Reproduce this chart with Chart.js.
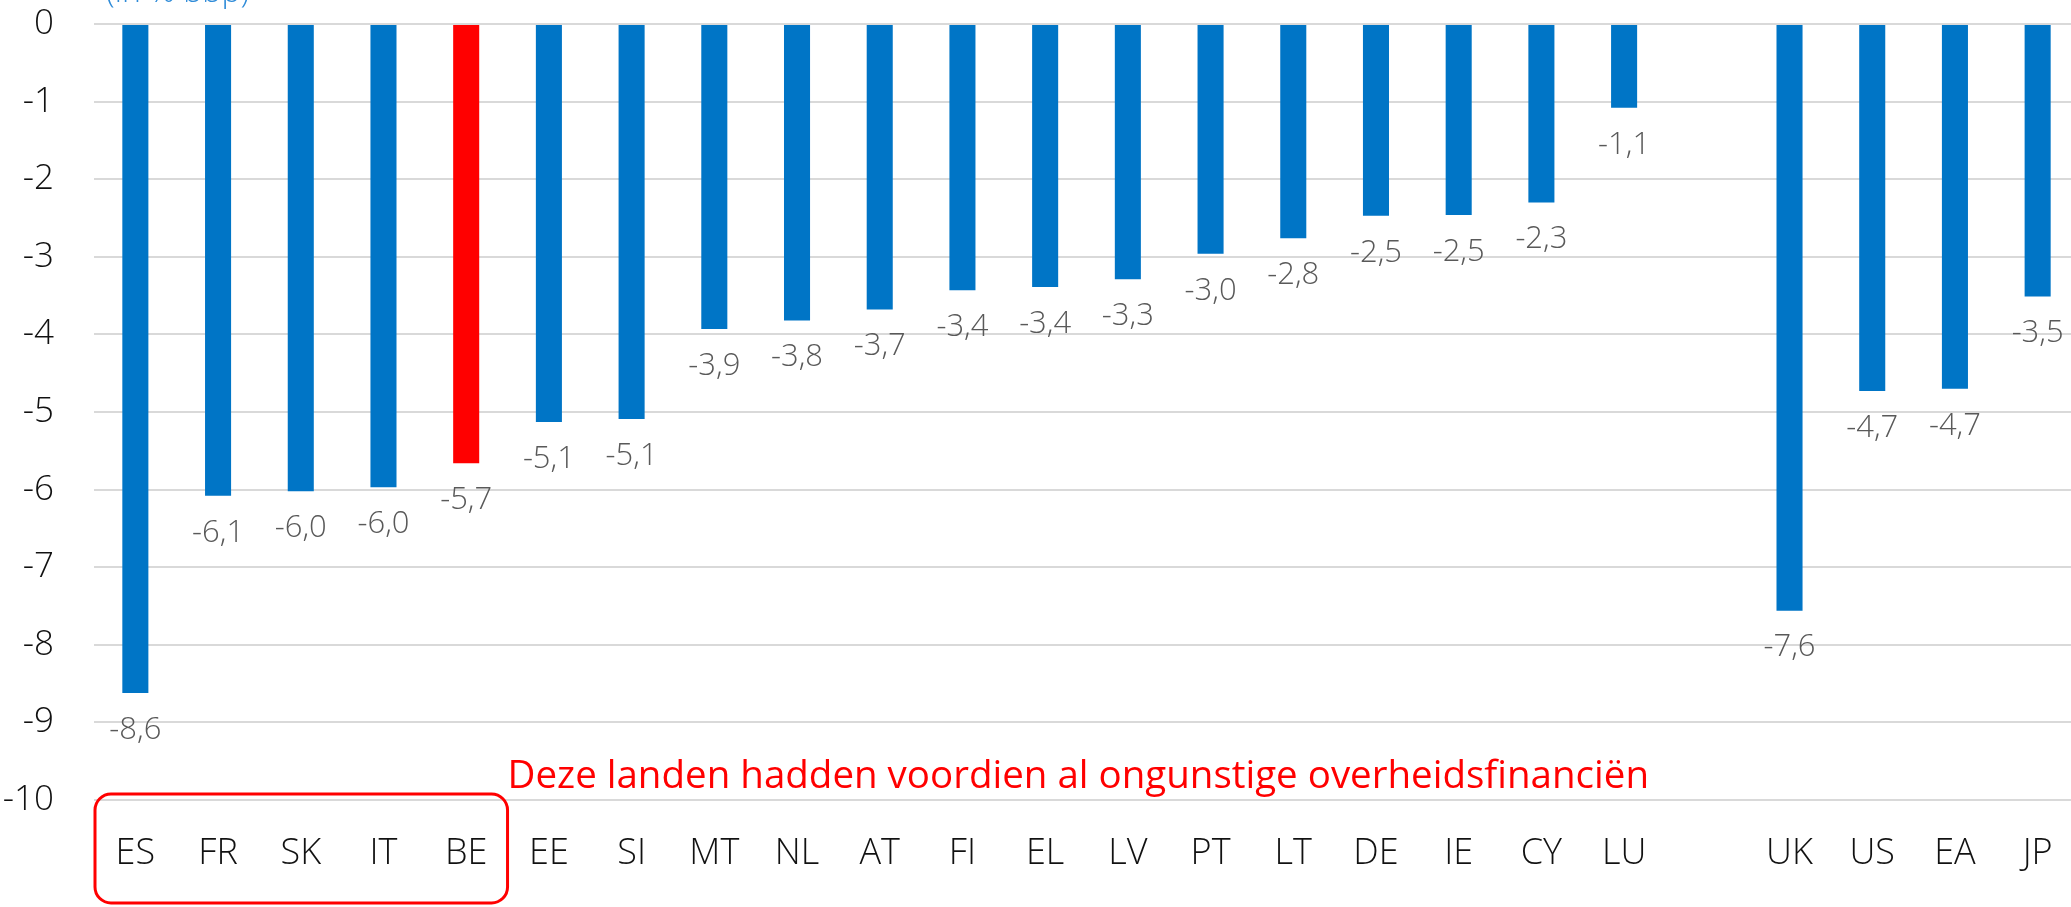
<!DOCTYPE html>
<html>
<head>
<meta charset="utf-8">
<script src="https://cdn.jsdelivr.net/npm/chart.js@4"></script>
<style>
  html, body { margin: 0; padding: 0; overflow: hidden; background: #fff; }
  #wrap { width: 2079px; height: 907px; position: relative; }
</style>
</head>
<body>
<div id="wrap"><canvas id="c"></canvas></div>
<script>
const categories = ['ES','FR','SK','IT','BE','EE','SI','MT','NL','AT','FI','EL','LV','PT','LT','DE','IE','CY','LU','','UK','US','EA','JP'];
const values = [-8.62,-6.08,-6.02,-5.97,-5.66,-5.13,-5.09,-3.93,-3.82,-3.68,-3.43,-3.39,-3.29,-2.96,-2.76,-2.47,-2.46,-2.30,-1.08,null,-7.56,-4.73,-4.70,-3.51];
const highlighted = ['BE'];
const yTicks = [0,-1,-2,-3,-4,-5,-6,-7,-8,-9,-10];
const boxedGroup = ['ES','FR','SK','IT','BE'];
const title = '(in % bbp)';
const noteText = 'Deze landen hadden voordien al ongunstige overheidsfinanciën';

const FONT = "'Open Sans', 'Segoe UI', sans-serif";
const BLUE = '#0075C6';
const RED = '#FF0000';

const colors = categories.map(c => highlighted.includes(c) ? RED : BLUE);

const labelPlugin = {
  id: 'valueLabels',
  afterDatasetsDraw(chart) {
    const ctx = chart.ctx;
    const meta = chart.getDatasetMeta(0);
    ctx.save();
    ctx.font = `300 31px ${FONT}`;
    ctx.fillStyle = '#595959';
    ctx.textAlign = 'center';
    ctx.textBaseline = 'middle';
    meta.data.forEach((bar, i) => {
      const v = values[i];
      if (v === null || v === undefined) return;
      ctx.fillText(v.toFixed(1).replace('.', ','), bar.x, bar.y + 37);
    });
    ctx.restore();
  }
};

const notePlugin = {
  id: 'note',
  afterDraw(chart) {
    const ctx = chart.ctx;
    const xs = chart.scales.x;
    const ys = chart.scales.y;
    const first = categories.indexOf(boxedGroup[0]);
    const last = categories.indexOf(boxedGroup[boxedGroup.length - 1]);
    const half = (xs.getPixelForValue(1) - xs.getPixelForValue(0)) / 2;
    const x0 = xs.getPixelForValue(first) - half + 1;
    const x1 = xs.getPixelForValue(last) + half;
    const y0 = ys.getPixelForValue(-10) - 6;
    const y1 = chart.height - 4;
    ctx.save();
    ctx.strokeStyle = RED;
    ctx.lineWidth = 3;
    ctx.beginPath();
    ctx.roundRect(x0, y0, x1 - x0, y1 - y0, 16);
    ctx.stroke();
    ctx.font = `400 38.5px ${FONT}`;
    ctx.fillStyle = RED;
    ctx.textAlign = 'left';
    ctx.textBaseline = 'alphabetic';
    ctx.fillText(noteText, x1, y0 - 6);
    // title (mostly cut off at the top)
    ctx.font = `300 32px ${FONT}`;
    ctx.fillStyle = '#2E8BD8';
    ctx.fillText(title, 106, 2);
    ctx.restore();
  }
};

new Chart(document.getElementById('c'), {
  type: 'bar',
  data: {
    labels: categories,
    datasets: [{
      data: values,
      backgroundColor: colors,
      borderWidth: 0,
      barPercentage: 0.315,
      categoryPercentage: 1.0
    }]
  },
  options: {
    responsive: true,
    maintainAspectRatio: false,
    animation: false,
    layout: { padding: { top: 24, left: 0, right: 0, bottom: 0 } },
    plugins: { legend: { display: false }, tooltip: { enabled: false } },
    scales: {
      x: {
        grid: { display: false, drawTicks: false },
        border: { display: false },
        ticks: {
          color: '#111',
          font: { family: FONT, size: 36, weight: 300 },
          padding: 32,
          maxRotation: 0,
          autoSkip: false
        },
        afterFit(s) { s.height = 107; s.paddingLeft = 0; s.paddingRight = 0; }
      },
      y: {
        min: -10,
        max: 0,
        afterBuildTicks(s) { s.ticks = yTicks.map(v => ({ value: v })); },
        grid: { color: '#D9D9D9', lineWidth: 2, drawTicks: false },
        border: { display: false },
        ticks: {
          color: '#111',
          font: { family: FONT, size: 35, weight: 300 },
          padding: 40,
          callback: v => String(v)
        },
        afterFit(s) { s.width = 94; s.paddingTop = 0; s.paddingBottom = 0; }
      }
    }
  },
  plugins: [labelPlugin, notePlugin]
});
</script>
</body>
</html>
